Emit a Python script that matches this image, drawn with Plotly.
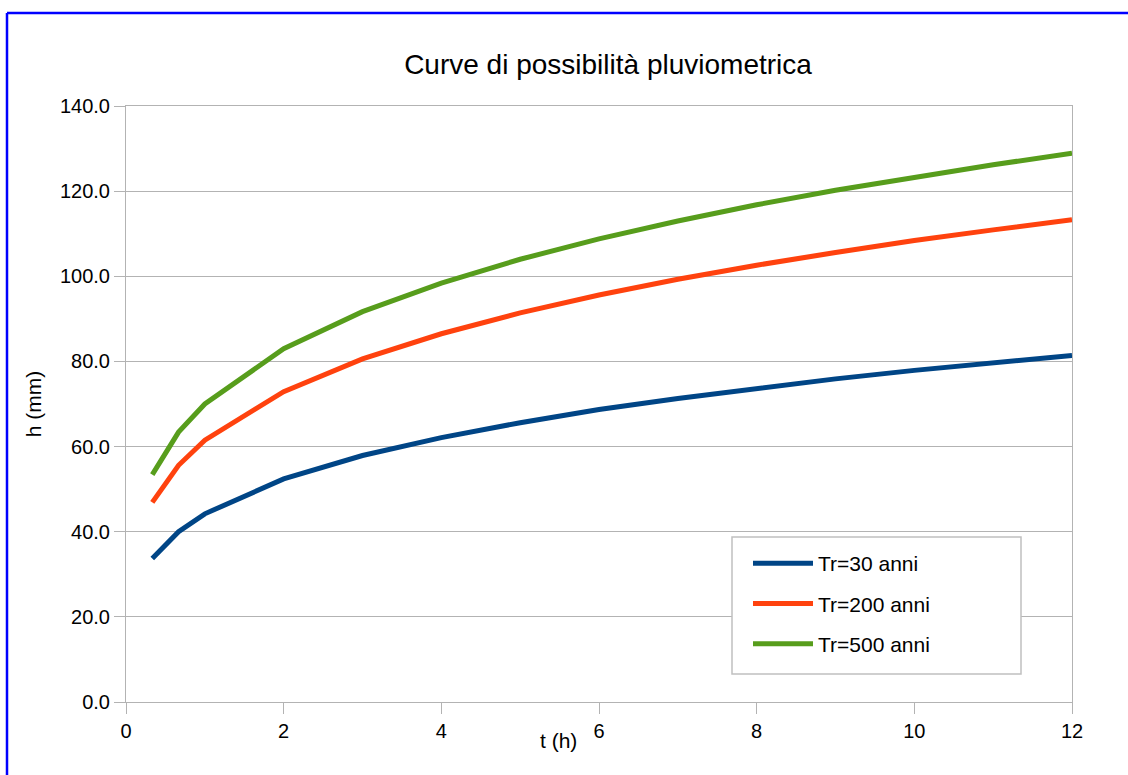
import plotly.graph_objects as go

# Durations (h)
t_hours = [1/3, 2/3, 1, 2, 3, 4, 5, 6, 7, 8, 9, 10, 11, 12]

# Rainfall depth h (mm) for each return period
h_tr30 = [33.7, 40.0, 44.2, 52.4, 57.9, 62.1, 65.6, 68.7, 71.3, 73.7, 75.9, 77.9, 79.7, 81.4]
h_tr200 = [46.9, 55.6, 61.5, 72.9, 80.6, 86.5, 91.4, 95.6, 99.3, 102.6, 105.6, 108.4, 110.9, 113.3]
h_tr500 = [53.4, 63.4, 70.0, 83.0, 91.7, 98.4, 104.0, 108.8, 113.0, 116.8, 120.2, 123.3, 126.2, 128.9]

series_names = ["Tr=30 anni", "Tr=200 anni", "Tr=500 anni"]
series_values = [h_tr30, h_tr200, h_tr500]
series_colors = ["#004586", "#ff420e", "#579d1c"]

x_ticks = [0, 2, 4, 6, 8, 10, 12]
y_ticks = [0, 20, 40, 60, 80, 100, 120, 140]

FONT = "Liberation Sans, Arial, sans-serif"
W, H = 1128, 775
ML, MR, MT, MB = 126, 56, 106, 73
pw, ph = W - ML - MR, H - MT - MB


def px_x(p):
    return (p - ML) / pw


def px_y(p):
    return (H - MB - p) / ph


fig = go.Figure()
for i, (name, vals, col) in enumerate(zip(series_names, series_values, series_colors)):
    fig.add_trace(go.Scatter(
        x=t_hours, y=vals, mode="lines", name=name,
        line=dict(color=col, width=5), legendgroup=f"g{i}",
    ))

grid = "#b3b3b3"
fig.update_layout(
    width=W, height=H,
    margin=dict(l=ML, r=MR, t=MT, b=MB),
    paper_bgcolor="white", plot_bgcolor="white",
    font=dict(family=FONT, color="black", size=20),
    title=dict(text="Curve di possibilità pluviometrica", x=px_x(608), xref="paper",
               xanchor="center", y=1 - 64 / H, yref="container", yanchor="middle",
               font=dict(size=28, family=FONT, color="black")),
    xaxis=dict(range=[0, 12], tickvals=x_ticks, ticktext=[str(v) for v in x_ticks],
               showgrid=False, zeroline=False, showline=True, linecolor=grid, linewidth=1,
               mirror=True, ticks="outside", ticklen=11, tickcolor=grid,
               tickfont=dict(size=20, family=FONT, color="black")),
    yaxis=dict(range=[0, 140], tickvals=y_ticks, tickformat=".1f",
               showgrid=True, gridcolor=grid, gridwidth=1, zeroline=False,
               showline=True, linecolor=grid, linewidth=1, mirror=True,
               ticks="outside", ticklen=11, tickcolor=grid,
               tickfont=dict(size=20, family=FONT, color="black"),
               title=dict(text="h (mm)", standoff=12, font=dict(size=21, family=FONT, color="black"))),
    legend=dict(x=px_x(748), y=px_y(543), xanchor="left", yanchor="top",
                bgcolor="rgba(0,0,0,0)", borderwidth=0,
                font=dict(size=21, family=FONT, color="black"),
                tracegroupgap=10, itemwidth=60),
    showlegend=True,
)

# Legend frame (white box covering gridlines)
fig.add_shape(type="rect", xref="paper", yref="paper", layer="above",
              x0=px_x(732), x1=px_x(1021), y0=px_y(674), y1=px_y(537),
              fillcolor="white", line=dict(color="#c0c0c0", width=1.5))

fig.add_annotation(text="t (h)", x=px_x(558), y=px_y(740),
                   xref="paper", yref="paper", showarrow=False,
                   xanchor="center", yanchor="middle",
                   font=dict(size=21, family=FONT, color="black"))

# Outer blue frame (top and left edges)
fig.add_shape(type="line", xref="paper", yref="paper",
              x0=px_x(7), x1=px_x(W), y0=px_y(13), y1=px_y(13),
              line=dict(color="#0000ff", width=2.5))
fig.add_shape(type="line", xref="paper", yref="paper",
              x0=px_x(7), x1=px_x(7), y0=px_y(13), y1=px_y(H),
              line=dict(color="#0000ff", width=2.5))

fig.write_html("out.html", config={"displayModeBar": False},
               post_script="document.body.style.margin='0';")
